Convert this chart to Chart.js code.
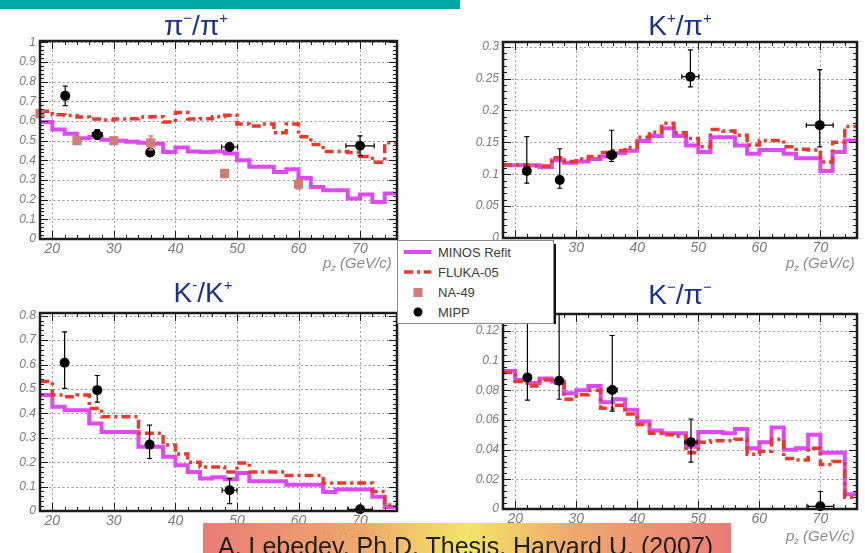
<!DOCTYPE html>
<html>
<head>
<meta charset="utf-8">
<script src="https://cdn.jsdelivr.net/npm/chart.js@4.4.1/dist/chart.umd.min.js"></script>
<style>
  html, body { margin: 0; padding: 0; background: #fff; }
  body { width: 865px; height: 553px; position: relative; overflow: hidden; font-family: "Liberation Sans", Arial, sans-serif; }
  canvas { position: absolute; }
  .ttl { position: absolute; transform: translateX(-50%); font-size: 28px; line-height: 28px; color: #1a3192; white-space: nowrap; }
  .sp { font-size: 15px; position: relative; top: -12px; }
  .axt { position: absolute; font-size: 15px; line-height: 15px; font-style: italic; color: #8a8a8a; white-space: nowrap; }
  .axt sub { font-size: 9px; position: relative; top: 3px; vertical-align: baseline; }
  #topbar { position: absolute; left: 0; top: 0; width: 460px; height: 9px; background: #00a5a5; }
  #legend { position: absolute; left: 397px; top: 240px; width: 155px; height: 82px; background: #fff; border: 1px solid #8a8a8a; }
  #legshadow { position: absolute; left: 553px; top: 244px; width: 3px; height: 80px; background: #111; }
  .lrow { position: absolute; left: 40px; font-size: 13px; line-height: 13px; color: #3a3a3a; white-space: nowrap; }
  #banner { position: absolute; left: 203px; top: 523px; width: 528px; height: 40px; opacity: 0.92;
            background: linear-gradient(to right, #e8716b 0%, #eea262 30%, #f1e45a 50%, #eea262 70%, #e8716b 100%); }
  #bantext { position: absolute; left: 218px; top: 534px; font-size: 25px; line-height: 25px; color: #1e1e1e; white-space: nowrap; }
</style>
</head>
<body>
<div id="topbar"></div>
<canvas id="c1" width="440" height="270" style="left:0;top:0"></canvas>
<canvas id="c2" width="425" height="270" style="left:440px;top:0"></canvas>
<canvas id="c3" width="440" height="283" style="left:0;top:270px"></canvas>
<canvas id="c4" width="425" height="283" style="left:440px;top:270px"></canvas>

<div class="ttl" style="left:196px;top:12px">π<span class="sp">−</span>/π<span class="sp">+</span></div>
<div class="ttl" style="left:680px;top:12px">K<span class="sp">+</span>/π<span class="sp">+</span></div>
<div class="ttl" style="left:203px;top:279px">K<span class="sp">-</span>/K<span class="sp">+</span></div>
<div class="ttl" style="left:680px;top:281px">K<span class="sp">−</span>/π<span class="sp">−</span></div>

<div class="axt" style="left:323px;top:255px">p<sub>z</sub> (GeV/c)</div>
<div class="axt" style="left:786px;top:255px">p<sub>z</sub> (GeV/c)</div>
<div class="axt" style="left:322px;top:526px">p<sub>z</sub> (GeV/c)</div>
<div class="axt" style="left:786px;top:528px">p<sub>z</sub> (GeV/c)</div>

<div id="legshadow"></div>
<div id="legend">
  <svg width="40" height="82" style="position:absolute;left:0;top:0">
    <line x1="6" y1="11" x2="33" y2="11" stroke="#de49f3" stroke-width="4"/>
    <line x1="6" y1="31" x2="33" y2="31" stroke="#e8392c" stroke-width="3.5" stroke-dasharray="9 4 3 4"/>
    <rect x="15.5" y="47" width="9" height="9" fill="#cf7d76"/>
    <circle cx="20" cy="71" r="4.5" fill="#000"/>
  </svg>
  <div class="lrow" style="top:5px">MINOS Refit</div>
  <div class="lrow" style="top:25px">FLUKA-05</div>
  <div class="lrow" style="top:45px">NA-49</div>
  <div class="lrow" style="top:65px">MIPP</div>
</div>

<div id="banner"></div>
<div id="bantext">A. Lebedev, Ph.D. Thesis, Harvard U. (2007)</div>

<script>
// Bin edges of the p_z histograms (GeV/c)
const binEdges = [18,20,22,24,26,28,30,32,34,36,38,40,42,44,46,48,50,52,54,56,58,60,62,64,66,68,70,72,74,76];

// pi-/pi+
const pipiMinos = [0.595,0.557,0.535,0.512,0.52,0.505,0.50,0.494,0.49,0.485,0.443,0.465,0.445,0.443,0.445,0.435,0.40,0.367,0.367,0.341,0.355,0.31,0.265,0.248,0.248,0.206,0.226,0.188,0.231];
const pipiFluka = [0.65,0.632,0.628,0.62,0.61,0.605,0.61,0.612,0.62,0.622,0.595,0.643,0.61,0.612,0.622,0.63,0.585,0.575,0.585,0.54,0.585,0.52,0.48,0.445,0.445,0.44,0.42,0.39,0.49];
const pipiMippX = [22.1, 27.3, 35.9, 48.8, 70.0];
const pipiMippY = [0.728, 0.531, 0.44, 0.468, 0.474];
const pipiMippXErr = [0.3, 0.8, 0.6, 1.3, 2.3];
const pipiMippLo = [0.678, 0.506, 0.42, 0.448, 0.424];
const pipiMippHi = [0.778, 0.556, 0.46, 0.488, 0.524];
const na49X = [18, 24, 30, 36, 48, 60];
const na49Y = [0.638, 0.50, 0.50, 0.489, 0.333, 0.279];
const na49Err = [0.01, 0.01, 0.01, 0.035, 0.02, 0.025];

// K+/pi+
const kpiMinos = [0.114,0.114,0.114,0.111,0.122,0.118,0.12,0.124,0.128,0.133,0.137,0.152,0.16,0.172,0.16,0.145,0.135,0.158,0.158,0.145,0.132,0.138,0.138,0.132,0.125,0.125,0.105,0.135,0.153];
const kpiFluka = [0.115,0.115,0.113,0.113,0.126,0.12,0.124,0.128,0.134,0.137,0.142,0.158,0.166,0.18,0.165,0.156,0.143,0.17,0.168,0.161,0.146,0.153,0.153,0.143,0.139,0.138,0.119,0.15,0.175];
const kpiMippX = [21.9, 27.3, 35.8, 48.7, 69.9];
const kpiMippY = [0.105, 0.091, 0.13, 0.253, 0.177];
const kpiMippXErr = [0.3, 0.4, 0.8, 1.4, 2.2];
const kpiMippLo = [0.086, 0.078, 0.12, 0.237, 0.143];
const kpiMippHi = [0.159, 0.14, 0.169, 0.295, 0.264];

// K-/K+
const kkMinos = [0.475,0.427,0.413,0.413,0.358,0.324,0.324,0.324,0.263,0.263,0.222,0.187,0.16,0.133,0.138,0.13,0.156,0.122,0.122,0.122,0.108,0.108,0.108,0.078,0.088,0.088,0.088,0.058,0.016];
const kkFluka = [0.53,0.475,0.468,0.475,0.42,0.386,0.386,0.386,0.318,0.318,0.27,0.233,0.2,0.18,0.18,0.16,0.197,0.16,0.16,0.16,0.145,0.145,0.145,0.115,0.115,0.115,0.115,0.08,0.025];
const kkMippX = [22.0, 27.3, 35.8, 48.8, 70.0];
const kkMippY = [0.607, 0.495, 0.272, 0.085, 0.007];
const kkMippXErr = [0.3, 0.5, 0.6, 1.2, 2.0];
const kkMippLo = [0.502, 0.446, 0.215, 0.03, 0.0];
const kkMippHi = [0.734, 0.555, 0.352, 0.133, 0.012];

// K-/pi-
const kmpiMinos = [0.093,0.087,0.085,0.088,0.086,0.078,0.080,0.083,0.072,0.074,0.067,0.059,0.053,0.051,0.051,0.042,0.052,0.052,0.051,0.054,0.041,0.045,0.055,0.040,0.041,0.050,0.038,0.038,0.010];
const kmpiFluka = [0.092,0.086,0.083,0.087,0.085,0.074,0.077,0.080,0.068,0.070,0.064,0.057,0.051,0.050,0.049,0.038,0.045,0.046,0.046,0.047,0.037,0.039,0.047,0.034,0.033,0.041,0.030,0.032,0.008];
const kmpiMippX = [22.0, 27.2, 35.9, 48.8, 70.0];
const kmpiMippY = [0.0887, 0.0865, 0.0802, 0.045, 0.0018];
const kmpiMippXErr = [0.3, 0.4, 0.8, 1.0, 2.2];
const kmpiMippLo = [0.0734, 0.074, 0.066, 0.0316, 0.0];
const kmpiMippHi = [0.15, 0.15, 0.117, 0.0607, 0.0118];

const MINOS_COLOR = '#de49f3';
const FLUKA_COLOR = '#e8392c';
const NA49_COLOR = '#cf7d76';
const TICK_COLOR = '#7a7a7a';

// histogram values -> step points (value held until the next edge)
function stepPoints(values) {
  const pts = values.map((v, i) => ({ x: binEdges[i], y: v }));
  pts.push({ x: binEdges[values.length], y: values[values.length - 1] });
  return pts;
}
function points(xs, ys) { return xs.map((x, i) => ({ x, y: ys[i] })); }

// ROOT-like frame: dotted grid, heavy border, inner tick marks, error bars
const panelDecor = {
  id: 'panelDecor',
  beforeDatasetsDraw(chart) {
    const { ctx, chartArea: a, scales: { x, y } } = chart;
    ctx.save();
    ctx.strokeStyle = '#999';
    ctx.lineWidth = 1;
    ctx.setLineDash([2, 2.5]);
    ctx.beginPath();
    x.ticks.forEach(t => {
      const px = Math.round(x.getPixelForValue(t.value)) + 0.5;
      ctx.moveTo(px, a.top); ctx.lineTo(px, a.bottom);
    });
    y.ticks.forEach(t => {
      if (t.value === 0) return;
      const py = Math.round(y.getPixelForValue(t.value)) + 0.5;
      ctx.moveTo(a.left, py); ctx.lineTo(a.right, py);
    });
    ctx.stroke();
    ctx.restore();
  },
  afterDatasetsDraw(chart, args, opts) {
    const { ctx, chartArea: a, scales: { x, y } } = chart;
    ctx.save();
    // error bars
    ctx.beginPath();
    ctx.rect(a.left, a.top - 1, a.right - a.left, a.bottom - a.top + 2);
    ctx.clip();
    (opts.bars || []).forEach(b => {
      ctx.strokeStyle = b.color;
      ctx.lineWidth = b.width || 1.2;
      for (let i = 0; i < b.x.length; i++) {
        const px = x.getPixelForValue(b.x[i]);
        const py = y.getPixelForValue(b.y[i]);
        const pLo = y.getPixelForValue(b.lo[i]);
        const pHi = y.getPixelForValue(b.hi[i]);
        ctx.beginPath();
        ctx.moveTo(px, pLo); ctx.lineTo(px, pHi);
        ctx.moveTo(px - 2.5, pLo); ctx.lineTo(px + 2.5, pLo);
        ctx.moveTo(px - 2.5, pHi); ctx.lineTo(px + 2.5, pHi);
        if (b.xe) {
          const xl = x.getPixelForValue(b.x[i] - b.xe[i]);
          const xr = x.getPixelForValue(b.x[i] + b.xe[i]);
          ctx.moveTo(xl, py); ctx.lineTo(xr, py);
          ctx.moveTo(xl, py - 2.5); ctx.lineTo(xl, py + 2.5);
          ctx.moveTo(xr, py - 2.5); ctx.lineTo(xr, py + 2.5);
        }
        ctx.stroke();
      }
    });
    ctx.restore();

    ctx.save();
    ctx.strokeStyle = '#1c1c1c';
    // tick marks on all four sides
    ctx.lineWidth = 1;
    ctx.beginPath();
    const xMajor = opts.xMajor, xMinor = opts.xMinor;
    for (let k = Math.ceil(x.min / xMinor); k * xMinor <= x.max + 1e-9; k++) {
      const v = k * xMinor;
      const major = Math.abs(v / xMajor - Math.round(v / xMajor)) < 1e-6;
      const len = major ? 8 : 4;
      const px = Math.round(x.getPixelForValue(v)) + 0.5;
      ctx.moveTo(px, a.bottom); ctx.lineTo(px, a.bottom - len);
      ctx.moveTo(px, a.top); ctx.lineTo(px, a.top + len);
    }
    const yMajor = opts.yMajor, yMinor = opts.yMinor;
    for (let k = Math.ceil(y.min / yMinor - 1e-6); k * yMinor <= y.max + 1e-9; k++) {
      const v = k * yMinor;
      const major = Math.abs(v / yMajor - Math.round(v / yMajor)) < 1e-6;
      const len = major ? 8 : 4;
      const py = Math.round(y.getPixelForValue(v)) + 0.5;
      ctx.moveTo(a.left, py); ctx.lineTo(a.left + len, py);
      ctx.moveTo(a.right, py); ctx.lineTo(a.right - len, py);
    }
    ctx.stroke();
    // frame
    ctx.lineWidth = 2.5;
    ctx.strokeRect(a.left, a.top, a.right - a.left, a.bottom - a.top);
    ctx.restore();
  }
};

function fmt(v) { return String(Math.round(v * 1000) / 1000); }

function makePanel(id, p) {
  const datasets = [
    { label: 'MIPP', data: points(p.mippX, p.mippY), showLine: false, pointRadius: 5,
      pointBackgroundColor: '#000', pointBorderWidth: 0, clip: false },
  ];
  if (p.na49X) {
    datasets.push({ label: 'NA-49', data: points(p.na49X, p.na49Y), showLine: false,
      pointStyle: 'rect', pointRadius: 6.5, pointBackgroundColor: NA49_COLOR, pointBorderWidth: 0, clip: false });
  }
  datasets.push(
    { label: 'FLUKA-05', data: stepPoints(p.fluka), stepped: true, borderColor: FLUKA_COLOR,
      borderWidth: 3.5, borderDash: [9, 4, 3, 4], pointRadius: 0, fill: false },
    { label: 'MINOS Refit', data: stepPoints(p.minos), stepped: true, borderColor: MINOS_COLOR,
      borderWidth: 4, pointRadius: 0, fill: false }
  );
  const bars = [{ x: p.mippX, y: p.mippY, lo: p.mippLo, hi: p.mippHi, xe: p.mippXErr, color: '#000' }];
  if (p.na49X) {
    bars.push({ x: p.na49X, y: p.na49Y,
      lo: p.na49Y.map((v, i) => v - p.na49Err[i]), hi: p.na49Y.map((v, i) => v + p.na49Err[i]),
      color: NA49_COLOR, width: 1.5 });
  }
  new Chart(document.getElementById(id), {
    type: 'line',
    data: { datasets },
    plugins: [panelDecor],
    options: {
      responsive: false,
      animation: false,
      events: [],
      layout: { autoPadding: false, padding: { top: p.pad[0], right: p.pad[1], bottom: p.pad[2], left: 0 } },
      plugins: {
        legend: { display: false },
        tooltip: { enabled: false },
        panelDecor: { bars, xMajor: 10, xMinor: 2, yMajor: p.yStep, yMinor: p.yStep / 5 }
      },
      scales: {
        x: {
          type: 'linear', min: 18, max: 76,
          afterFit: s => { s.height = 25; },
          grid: { display: false, drawTicks: false },
          border: { display: false },
          ticks: { stepSize: 10, includeBounds: false, autoSkip: false, maxRotation: 0, padding: 2,
                   color: TICK_COLOR, font: { family: 'Liberation Sans', size: 14, style: 'italic' } }
        },
        y: {
          type: 'linear', min: 0, max: p.yMax,
          afterFit: s => { s.width = p.yAxisW; },
          grid: { display: false, drawTicks: false },
          border: { display: false },
          ticks: { stepSize: p.yStep, includeBounds: false, autoSkip: false, padding: 4, callback: fmt,
                   color: TICK_COLOR, font: { family: 'Liberation Sans', size: 12, style: 'italic' } }
        }
      }
    }
  });
}

makePanel('c1', { minos: pipiMinos, fluka: pipiFluka, mippX: pipiMippX, mippY: pipiMippY,
  mippXErr: pipiMippXErr, mippLo: pipiMippLo, mippHi: pipiMippHi,
  na49X, na49Y, na49Err, yMax: 1.007, yStep: 0.1, yAxisW: 40, pad: [41, 43, 6] });
makePanel('c2', { minos: kpiMinos, fluka: kpiFluka, mippX: kpiMippX, mippY: kpiMippY,
  mippXErr: kpiMippXErr, mippLo: kpiMippLo, mippHi: kpiMippHi,
  yMax: 0.3074, yStep: 0.05, yAxisW: 63, pad: [42, 8, 7] });
makePanel('c3', { minos: kkMinos, fluka: kkFluka, mippX: kkMippX, mippY: kkMippY,
  mippXErr: kkMippXErr, mippLo: kkMippLo, mippHi: kkMippHi,
  yMax: 0.811, yStep: 0.1, yAxisW: 40, pad: [43, 43, 17] });
makePanel('c4', { minos: kmpiMinos, fluka: kmpiFluka, mippX: kmpiMippX, mippY: kmpiMippY,
  mippXErr: kmpiMippXErr, mippLo: kmpiMippLo, mippHi: kmpiMippHi,
  yMax: 0.1315, yStep: 0.02, yAxisW: 63, pad: [44, 8, 19] });
</script>
</body>
</html>
